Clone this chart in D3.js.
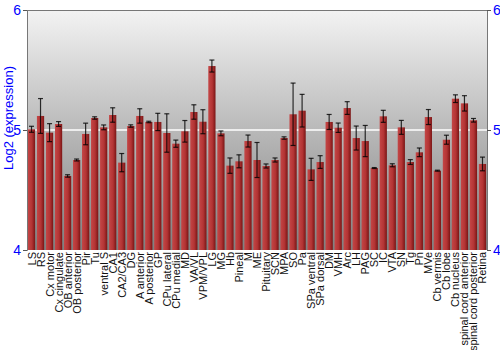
<!DOCTYPE html>
<html>
<head>
<meta charset="utf-8">
<script src="https://cdn.jsdelivr.net/npm/d3@7"></script>
<style>
  body { margin: 0; background: #fff; }
  text { font-family: "Liberation Sans", Arial, sans-serif; }
</style>
</head>
<body>
<div id="chart"></div>
<script>
// regions, mean log2 expression and error half-widths
var regions = ["LS", "RS", "Cx motor", "Cx cingulate", "OB anterior", "OB posterior", "Pir", "Tu",
  "ventral S", "CA1", "CA2/CA3", "DG", "A anterior", "A posterior", "GP", "CPu lateral", "CPu medial",
  "MD", "VA/VL", "VPM/VPL", "LG", "MG", "Hb", "Pineal", "M", "ME", "Pituitary", "SCN", "MPA", "SO",
  "Pa", "SPa ventral", "SPa dorsal", "DM", "VMH", "Arc", "LH", "PAG", "SC", "IC", "VTA", "SN", "Tg",
  "Pn", "MVe", "Cb vermis", "Cb lobe", "Cb nucleus", "spinal cord anterior", "spinal cord posterior", "Retina"];

var values = [5.006, 5.117, 4.978, 5.05, 4.617, 4.75, 4.967, 5.1,
  5.022, 5.125, 4.728, 5.033, 5.117, 5.067, 5.067, 4.975, 4.886,
  4.989, 5.15, 5.069, 5.533, 4.972, 4.703, 4.739, 4.908, 4.75, 4.70, 4.75, 4.933, 5.131,
  5.161, 4.672, 4.733, 5.067, 5.019, 5.183, 4.933, 4.908, 4.683, 5.114, 4.706, 5.022, 4.733,
  4.814, 5.108, 4.661, 4.919, 5.261, 5.222, 5.081, 4.717];

var errors = [0.025, 0.145, 0.075, 0.02, 0.01, 0.008, 0.09, 0.01,
  0.02, 0.06, 0.076, 0.01, 0.06, 0.006, 0.072, 0.16, 0.03,
  0.09, 0.06, 0.1, 0.05, 0.02, 0.064, 0.054, 0.05, 0.146, 0.017, 0.017, 0.01, 0.26,
  0.136, 0.092, 0.053, 0.0625, 0.039, 0.053, 0.1, 0.13, 0.004, 0.05, 0.0125, 0.058, 0.02,
  0.036, 0.0625, 0.004, 0.0375, 0.032, 0.064, 0.015, 0.057];

var yTicks = [4, 5, 6];

var table = regions.map(function(r, i) {
  return {region: r, value: values[i], err: errors[i]};
});

var margin = {top: 10, right: 13, bottom: 100, left: 27},
    width = 500 - margin.left - margin.right,
    height = 350 - margin.top - margin.bottom;

var svg = d3.select("#chart")
  .append("svg")
    .attr("width", 500)
    .attr("height", 350);

var defs = svg.append("defs");

var bg = defs.append("linearGradient")
    .attr("id", "bg").attr("x1", 0).attr("y1", 0).attr("x2", 0).attr("y2", 1);
bg.append("stop").attr("offset", "0%").attr("stop-color", "#f3f3f3");
bg.append("stop").attr("offset", "100%").attr("stop-color", "#7f7f7f");

var barGrad = defs.append("linearGradient")
    .attr("id", "bar").attr("x1", 0).attr("y1", 0).attr("x2", 1).attr("y2", 0);
barGrad.append("stop").attr("offset", "0%").attr("stop-color", "#c44646");
barGrad.append("stop").attr("offset", "55%").attr("stop-color", "#b33434");
barGrad.append("stop").attr("offset", "100%").attr("stop-color", "#7a1515");

var g = svg.append("g")
    .attr("transform", "translate(" + margin.left + "," + margin.top + ")");

var x = d3.scaleBand()
  .range([0, width])
  .domain(regions)
  .paddingInner(0.2)
  .paddingOuter(0.1);

var y = d3.scaleLinear()
  .domain([4, 6])
  .range([height, 0]);

// background
g.append("rect")
    .attr("width", width)
    .attr("height", height)
    .attr("fill", "url(#bg)");

// white grid line at 5
g.append("line")
    .attr("x1", 0).attr("x2", width)
    .attr("y1", y(5)).attr("y2", y(5))
    .attr("stroke", "#ffffff")
    .attr("stroke-width", 1.5);

// top border
g.append("line")
    .attr("x1", 0).attr("x2", width)
    .attr("y1", 0.5).attr("y2", 0.5)
    .attr("stroke", "#777");

// bars
g.selectAll("rect.bar")
  .data(table)
  .enter()
  .append("rect")
    .attr("class", "bar")
    .attr("x", function(d) { return x(d.region); })
    .attr("y", function(d) { return y(d.value); })
    .attr("width", x.bandwidth())
    .attr("height", function(d) { return height - y(d.value); })
    .attr("fill", "url(#bar)");

// error bars
var eb = g.selectAll("g.err")
  .data(table)
  .enter()
  .append("g")
    .attr("class", "err")
    .attr("stroke", "#000")
    .attr("stroke-opacity", 0.8)
    .attr("stroke-width", 1.2);

eb.append("line")
    .attr("x1", function(d) { return x(d.region) + x.bandwidth() / 2; })
    .attr("x2", function(d) { return x(d.region) + x.bandwidth() / 2; })
    .attr("y1", function(d) { return y(d.value - d.err); })
    .attr("y2", function(d) { return y(d.value + d.err); });

eb.append("line")
    .attr("x1", function(d) { return x(d.region) + x.bandwidth() / 2 - 2.5; })
    .attr("x2", function(d) { return x(d.region) + x.bandwidth() / 2 + 2.5; })
    .attr("y1", function(d) { return y(d.value + d.err); })
    .attr("y2", function(d) { return y(d.value + d.err); });

eb.append("line")
    .attr("x1", function(d) { return x(d.region) + x.bandwidth() / 2 - 2.5; })
    .attr("x2", function(d) { return x(d.region) + x.bandwidth() / 2 + 2.5; })
    .attr("y1", function(d) { return y(d.value - d.err); })
    .attr("y2", function(d) { return y(d.value - d.err); });

// axes
var left = g.append("g")
  .call(d3.axisLeft(y).tickValues(yTicks).tickFormat(d3.format("d")).tickSize(4).tickPadding(2));
var right = g.append("g")
  .attr("transform", "translate(" + width + ",0)")
  .call(d3.axisRight(y).tickValues(yTicks).tickFormat(d3.format("d")).tickSize(4).tickPadding(2));

[left, right].forEach(function(a) {
  a.select(".domain").attr("stroke", "#777");
  a.selectAll(".tick line").attr("stroke", "#555");
  a.selectAll(".tick text")
    .attr("fill", "#0000ff")
    .style("font-size", "14px")
    .style("font-family", "Liberation Sans, Arial, sans-serif");
});

// x labels
g.append("g")
  .selectAll("text")
  .data(table)
  .enter()
  .append("text")
    .attr("transform", function(d) {
      return "translate(" + (x(d.region) + x.bandwidth() / 2 + 4) + "," + (height + 2) + ")rotate(-90)";
    })
    .attr("text-anchor", "end")
    .style("font-size", "11px")
    .attr("fill", "#111")
    .text(function(d) { return d.region; });

// Y axis label
svg.append("text")
    .attr("text-anchor", "middle")
    .attr("transform", "translate(13," + (margin.top + height / 2 - 12) + ")rotate(-90)")
    .attr("fill", "#0000ff")
    .style("font-size", "13px")
    .text("Log2 (expression)");
</script>
</body>
</html>
